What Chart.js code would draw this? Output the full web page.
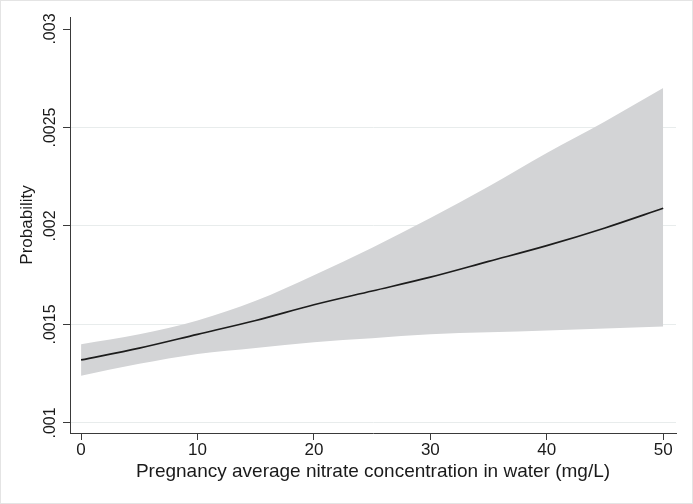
<!DOCTYPE html>
<html>
<head>
<meta charset="utf-8">
<script src="https://cdn.jsdelivr.net/npm/chart.js@4"></script>
<style>
  html, body { margin: 0; padding: 0; background: #fff; }
</style>
</head>
<body>
<canvas id="probChart" width="693" height="504"></canvas>
<script>
"use strict";

const nitrate = [0, 5, 10, 15, 20, 25, 30, 35, 40, 45, 50];
const probability = [0.00132, 0.00138, 0.00145, 0.00152, 0.0016, 0.00167, 0.00174, 0.00182, 0.0019, 0.00199, 0.00209];
const upperCI = [0.0014, 0.00145, 0.00152, 0.00162, 0.00175, 0.00189, 0.00204, 0.0022, 0.00237, 0.00253, 0.0027];
const lowerCI = [0.00124, 0.0013, 0.00135, 0.00138, 0.00141, 0.00143, 0.00145, 0.00146, 0.00147, 0.00148, 0.00149];

const xTicks = [0, 10, 20, 30, 40, 50];
const yTicks = [0.001, 0.0015, 0.002, 0.0025, 0.003];
const yTickLabels = [".001", ".0015", ".002", ".0025", ".003"];

const FONT = "'Liberation Sans', Arial, sans-serif";
const AXIS_COLOR = "#3a3a3a";
const TEXT_COLOR = "#1a1a1a";

function toPoints(ys) {
  return nitrate.map((x, i) => ({ x: x, y: ys[i] }));
}

// white page + faint frame like the exported graph
const framePlugin = {
  id: "frame",
  beforeDraw(chart) {
    const ctx = chart.ctx;
    ctx.save();
    ctx.fillStyle = "#fff";
    ctx.fillRect(0, 0, chart.width, chart.height);
    ctx.restore();
  },
  afterDraw(chart) {
    const ctx = chart.ctx;
    ctx.save();
    ctx.strokeStyle = "#e4e4e4";
    ctx.lineWidth = 1;
    ctx.strokeRect(0.5, 0.5, chart.width - 1, chart.height - 1);
    ctx.restore();
  },
};

const ctx = document.getElementById("probChart").getContext("2d");

new Chart(ctx, {
  type: "line",
  data: {
    datasets: [
      {
        label: "upper",
        data: toPoints(upperCI),
        borderWidth: 0,
        borderColor: "rgba(0,0,0,0)",
        backgroundColor: "#d3d4d6",
        fill: "+1",
        pointRadius: 0,
        cubicInterpolationMode: "monotone",
        order: 2,
      },
      {
        label: "lower",
        data: toPoints(lowerCI),
        borderWidth: 0,
        borderColor: "rgba(0,0,0,0)",
        fill: false,
        pointRadius: 0,
        cubicInterpolationMode: "monotone",
        order: 3,
      },
      {
        label: "Probability",
        data: toPoints(probability),
        borderColor: "#1c1c1c",
        borderWidth: 1.7,
        fill: false,
        pointRadius: 0,
        cubicInterpolationMode: "monotone",
        order: 1,
      },
    ],
  },
  options: {
    responsive: false,
    animation: false,
    devicePixelRatio: 1,
    layout: { padding: { left: 0, top: 17, right: 17, bottom: 0 } },
    plugins: {
      legend: { display: false },
      tooltip: { enabled: false },
    },
    scales: {
      x: {
        type: "linear",
        min: -0.95,
        max: 51.1,
        afterBuildTicks: (s) => {
          s.ticks = xTicks.map((v) => ({ value: v }));
        },
        afterFit: (s) => {
          s.height = 71;
        },
        grid: {
          drawOnChartArea: false,
          drawTicks: true,
          tickLength: 7,
          tickColor: AXIS_COLOR,
        },
        border: { color: AXIS_COLOR, width: 1 },
        ticks: {
          font: { size: 17, family: FONT },
          color: TEXT_COLOR,
          padding: 0,
          maxRotation: 0,
          autoSkip: false,
        },
        title: {
          display: true,
          text: "Pregnancy average nitrate concentration in water (mg/L)",
          font: { size: 19, family: FONT },
          color: TEXT_COLOR,
          padding: { top: 0, bottom: 21 },
        },
      },
      y: {
        min: 0.000949,
        max: 0.003061,
        afterBuildTicks: (s) => {
          s.ticks = yTicks.map((v) => ({ value: v }));
        },
        afterFit: (s) => {
          s.width = 70;
        },
        grid: {
          color: (c) => (c.tick && c.tick.value === 0.003 ? "rgba(0,0,0,0)" : "#e8ecec"),
          lineWidth: 1,
          drawTicks: true,
          tickLength: 7,
          tickColor: AXIS_COLOR,
        },
        border: { color: AXIS_COLOR, width: 1 },
        ticks: {
          font: { size: 16, family: FONT },
          color: TEXT_COLOR,
          minRotation: 90,
          maxRotation: 90,
          crossAlign: "center",
          padding: -8,
          autoSkip: false,
          callback: (value, index) => yTickLabels[index],
        },
        title: {
          display: true,
          text: "Probability",
          font: { size: 17, family: FONT },
          color: TEXT_COLOR,
          padding: { top: 17, bottom: 0 },
        },
      },
    },
  },
  plugins: [framePlugin],
});
</script>
</body>
</html>
